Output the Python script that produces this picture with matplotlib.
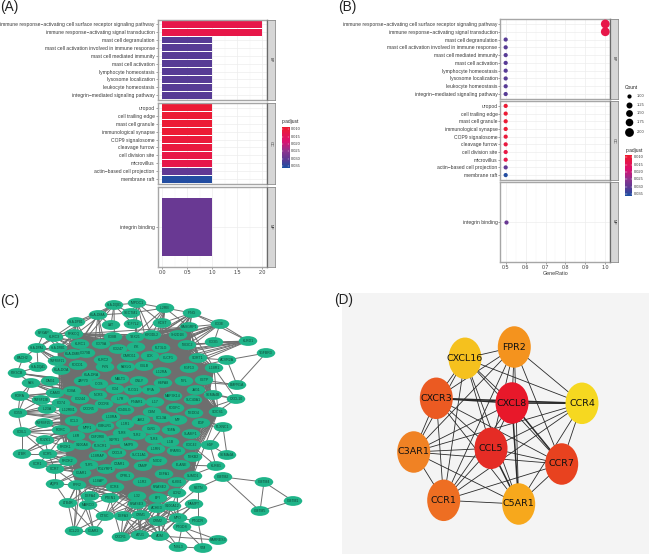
import matplotlib
matplotlib.use("Agg")
import matplotlib.pyplot as plt
import numpy as np
from itertools import combinations
from matplotlib.colors import LinearSegmentedColormap, Normalize
from matplotlib.patches import Ellipse, Rectangle
from matplotlib.collections import LineCollection

plt.rcParams['font.family'] = ['Liberation Sans', 'DejaVu Sans']

W, H = 650, 555

# ---------- enrichment data (A, B) ----------
bp_terms = ["immune response\u2212activating cell surface receptor signaling pathway",
            "immune response\u2212activating signal transduction", "mast cell degranulation",
            "mast cell activation involved in immune response", "mast cell mediated immunity",
            "mast cell activation", "lymphocyte homeostasis", "lysosome localization",
            "leukocyte homeostasis", "integrin\u2212mediated signaling pathway"]
bp_count = [2, 2, 1, 1, 1, 1, 1, 1, 1, 1]
bp_ratio = [1.0, 1.0, 0.5, 0.5, 0.5, 0.5, 0.5, 0.5, 0.5, 0.5]
bp_padj = [0.0125, 0.0125, 0.031, 0.031, 0.031, 0.031, 0.031, 0.031, 0.031, 0.031]

cc_terms = ["uropod", "cell trailing edge", "mast cell granule", "immunological synapse",
            "COP9 signalosome", "cleavage furrow", "cell division site", "microvillus",
            "actin\u2212based cell projection", "membrane raft"]
cc_count = [1, 1, 1, 1, 1, 1, 1, 1, 1, 1]
cc_ratio = [0.5, 0.5, 0.5, 0.5, 0.5, 0.5, 0.5, 0.5, 0.5, 0.5]
cc_padj = [0.0095, 0.0095, 0.0095, 0.0095, 0.0105, 0.011, 0.012, 0.0125, 0.030, 0.0355]

mf_terms = ["integrin binding"]
mf_count = [1]
mf_ratio = [0.5]
mf_padj = [0.029]

cbar_ticks = [0.010, 0.015, 0.020, 0.025, 0.030, 0.035]
size_levels = [1.00, 1.25, 1.50, 1.75, 2.00]
size_diam_px = [4.2, 6.0, 6.8, 7.6, 8.8]

cmap = LinearSegmentedColormap.from_list("padj", [(0, '#EE1C2E'), (0.35, '#DC1070'), (0.6, '#8B3590'),
                                                  (0.8, '#5B3A94'), (1, '#1B4FA3')])
norm = Normalize(0.0085, 0.0362)

TXT = '#3A3A3A'
BORDER = '#A6A6A6'
GRID = '#EDEDED'
FS = 3.65


def box(x0, y0, x1, y1, **kw):
    return plt.gcf().add_axes([x0 / W, 1 - y1 / H, (x1 - x0) / W, (y1 - y0) / H], **kw)


def strip(x0, y0, x1, y1, label):
    s = box(x0, y0, x1, y1)
    s.set_facecolor('#D6D6D6')
    s.set_xticks([]); s.set_yticks([])
    for k, sp in s.spines.items():
        sp.set_color('#8A8A8A'); sp.set_linewidth(0.6)
    s.spines['left'].set_color('#6A6A6A'); s.spines['left'].set_linewidth(0.9)
    s.text(.5, .5, label, rotation=-90, ha='center', va='center', fontsize=2.8,
           color='#333333', transform=s.transAxes)


def style_panel(ax, xlim, major, minor, terms, last):
    n = len(terms)
    ax.set_xlim(*xlim)
    ax.set_ylim(n + .6, .4)
    ax.set_yticks(range(1, n + 1), terms)
    ax.set_xticks(major)
    ax.set_xticks(minor, minor=True)
    ax.grid(True, which='major', color=GRID, lw=.5)
    ax.grid(True, which='minor', axis='x', color='#F3F3F3', lw=.35)
    ax.set_axisbelow(True)
    ax.tick_params(axis='y', labelsize=FS, length=1.2, width=.4, color='#555555', pad=.8, labelcolor=TXT)
    ax.tick_params(axis='x', which='major', labelsize=3.75, length=1.2 if last else 0, width=.4,
                   color='#555555', pad=1.2, labelcolor=TXT, labelbottom=last)
    ax.tick_params(axis='x', which='minor', length=0)
    for sp in ax.spines.values():
        sp.set_color(BORDER); sp.set_linewidth(1.0)


def colorbar(x0, y0, x1, y1, tick_x, title_y):
    c = box(x0, y0, x1, y1)
    g = np.linspace(norm.vmin, norm.vmax, 200).reshape(-1, 1)
    c.imshow(g, cmap=cmap, norm=norm, aspect='auto', extent=[0, 1, norm.vmax, norm.vmin])
    c.set_xticks([]); c.set_yticks([])
    for sp in c.spines.values():
        sp.set_visible(False)
    for t in cbar_ticks:
        c.plot([0, .2], [t, t], color='white', lw=.3)
        c.plot([.8, 1], [t, t], color='white', lw=.3)
        c.text(1 + (tick_x - x1) / (x1 - x0), t, f"{t:.3f}", fontsize=2.9, va='center', ha='left', color=TXT)
    c.set_xlim(0, 1); c.set_ylim(norm.vmax, norm.vmin)
    canvas.text(x0, title_y, "p.adjust", fontsize=3.5, va='center', ha='left', color='#222222')


fig = plt.figure(figsize=(W / 100, H / 100), dpi=100, facecolor='white')

canvas = fig.add_axes([0, 0, 1, 1], zorder=0)
canvas.set_xlim(0, W); canvas.set_ylim(H, 0); canvas.axis('off')

# ---------- A ----------
panelsA = [(19.5, 100, bp_terms, bp_count, bp_padj, 'BP'),
           (103, 184, cc_terms, cc_count, cc_padj, 'CC'),
           (187, 267, mf_terms, mf_count, mf_padj, 'MF')]
for y0, y1, terms, cnt, pad, lab in panelsA:
    ax = box(157.5, y0, 267, y1)
    style_panel(ax, (-0.096, 2.094), [0, .5, 1, 1.5, 2], [.25, .75, 1.25, 1.75], terms, lab == 'MF')
    ax.barh(range(1, len(terms) + 1), cnt, height=.87, color=cmap(norm(np.array(pad))))
    if lab == 'MF':
        ax.set_xticklabels(['0.0', '0.5', '1.0', '1.5', '2.0'])
    strip(267, y0, 274.5, y1, lab)
colorbar(281.7, 127, 289, 167.7, 291.3, 122)

# ---------- B ----------
panelsB = [(19.3, 98.7, bp_terms, bp_ratio, bp_count, bp_padj, 'BP'),
           (101.3, 179.7, cc_terms, cc_ratio, cc_count, cc_padj, 'CC'),
           (182, 261.7, mf_terms, mf_ratio, mf_count, mf_padj, 'MF')]
for y0, y1, terms, rat, cnt, pad, lab in panelsB:
    ax = box(500.3, y0, 610, y1)
    style_panel(ax, (0.473, 1.0236), [.5, .6, .7, .8, .9, 1.0], [.55, .65, .75, .85, .95], terms, lab == 'MF')
    d = np.interp(cnt, size_levels, size_diam_px) * .72
    ax.scatter(rat, range(1, len(terms) + 1), s=d ** 2, c=cmap(norm(np.array(pad))), lw=0, zorder=3, clip_on=False)
    if lab == 'MF':
        ax.set_xticklabels(['0.5', '0.6', '0.7', '0.8', '0.9', '1.0'])
        ax.set_xlabel("GeneRatio", fontsize=3.9, labelpad=1, color=TXT)
    strip(610, y0, 617.7, y1, lab)
colorbar(625.3, 155, 632, 195.7, 634.3, 150.7)

canvas.text(625, 87.7, "Count", fontsize=3.5, va='center', color='#222222')
legend_y_px = [96.3, 104.7, 113, 122, 132.3]
for lv, dp, yy in zip(size_levels, size_diam_px, legend_y_px):
    canvas.scatter([629.3], [yy], s=(dp * .72) ** 2, color='black', lw=0)
    canvas.text(637, yy, f"{lv:.2f}", fontsize=2.9, va='center', color=TXT)

# ---------- panel letters ----------
for t, x, y in [("(A)", 0.5, 7), ("(B)", 338, 7), ("(C)", 0.5, 301), ("(D)", 334, 300)]:
    canvas.text(x, y, t, fontsize=9.8, va='center', ha='left', color='#222222', zorder=20)

# ---------- C : network layout ----------
c_layout = [
 ("HLA-DQB1",114,305),("IMPDC1",137,303),("SECTM1",131,313),("HLA-DMA",98,315),("IL2RB",165,308),
 ("LAT",111,325),("TCF7L2",133,324),("HCST",162,323),("HLA-DPB1",76,322),("RFXAP",44,333),
 ("KLRC3",54,337),("PRKCQ",74,334),("CD8B",113,337),("TBX21",135,337),("KIR3DL2",152,335),
 ("KLRC1",80,344),("CD79A",101,344),("CD247",118,349),("ITK",136,347),("FLT3LG",161,348),
 ("HLA-DPA1",37,348),("HLA-DRB1",58,348),("CD79B",86,353),("HLA-DMB",73,354),("CARD11",130,356),
 ("LCK",150,356),("CLCF1",168,358),("BACH2",23,358),("TNFRSF21",57,361),("KLRC2",103,360),
 ("PDCD1",78,365),("FYN",105,367),("FASLG",126,367),("CBLB",144,366),("HLA-DQA1",38,367),
 ("HLA-DOA",61,370),("IL12RA",162,372),("PIK3CB",17,373),("HLA-DRA",91,375),("FAS",31,383),
 ("DAG1",50,381),("ZAP70",83,381),("ICOS",99,384),("MALT1",120,379),("GNLY",139,381),
 ("HSPA8",163,383),("CD4",115,389),("PLCG1",133,390),("PPIA",151,390),("ICAM3",55,393),
 ("CD8A",72,391),("RORA",20,396),("NCR3",98,395),("TNFSF13B",41,400),("CD74",61,403),
 ("CD244",80,399),("IL7R",120,399),("IFNAR1",137,402),("IL17",155,402),("IL23A",47,409),
 ("IL12RB1",68,410),("CXCR5",89,409),("CXCR6",104,404),("CD40LG",125,410),("OSM",152,412),
 ("CD59",18,413),("IL10RA",111,417),("CCL3",74,421),("JAK2",141,420),("IL1R1",125,424),
 ("CCL3A",162,418),("CMKLR1",105,426),("MPP1",87,428),("TLR8",122,433),("OLR1",151,429),
 ("TGFA",171,430),("RORC",61,430),("IL6R",76,436),("CSF2RB",98,437),("TLR2",137,435),
 ("S1PR1",114,440),("TLR4",154,439),("IL1B",170,442),("COIL1",22,432),("TNFRSF25",44,423),
 ("PDZK1",45,440),("PROK1",66,447),("S100A8",82,445),("PLSCR1",101,446),("MMP9",129,445),
 ("IL1RN",156,449),("PPARG",176,451),("LTBR",22,454),("CCR5",48,454),("IL18RAP",98,456),
 ("CXCL8",117,453),("SLC11A1",139,455),("NOD2",158,461),("CCR1",38,464),("PROK2",68,461),
 ("TLR5",89,465),("PGLYRP1",106,469),("C3AR1",120,464),("CAMP",143,466),("CCR7",55,469),
 ("C5AR1",82,473),("OPRL1",125,476),("DEFA1",164,474),("AQP9",55,484),("FPR2",77,485),
 ("IL18AP",98,481),("IL1R2",142,482),("CCR4",115,487),("RNASE2",160,487),("DEFA4",90,496),
 ("PTEN1",110,498),("IL32",137,496),("BPI",158,498),("LTB4R",68,503),("MARCO",88,505),
 ("RNASE3",137,504),("ACHE3",157,508),("S100A12",172,506),("CTSC",105,516),("DEFA3",123,516),
 ("ORM1",141,515),("ORM2",158,521),("MPO",178,518),("CCL23",74,531),("C5AR2",94,531),
 ("CXCR1",121,537),("AZU1",140,535),("ADM",160,536),
 ("NR3C2",187,345),("CD3G",214,342),("KLRD1",248,341),("CD3E",220,324),("IFNG",192,313),
 ("RASGRP1",189,327),("SH2D1B",178,335),("SORT1",198,358),("FGF13",189,368),("ACVR2A",227,360),
 ("IL18R1",214,368),("TGFBR3",266,353),("BMPR1A",237,385),("CXCL10",236,399),("SEMA4B",213,395),
 ("CETP",204,380),("NPL",184,381),("JAG1",196,390),("SLC40A1",193,400),("MAP3K14",173,396),
 ("PDGFC",175,408),("NEDD4",194,413),("SOCS1",218,412),("EGF",201,423),("MIF",178,420),
 ("PLXNC1",223,427),("SLAMF1",191,434),("CDC42",192,445),("HGF",210,445),("SEMA4A",227,455),
 ("KLRB1",216,466),("NFKB2",193,457),("ELANE",181,465),("SUMO1",193,476),("CMTM2",223,477),
 ("CMTM4",264,482),("CMTM1",293,501),("CMTM5",260,511),("RETN",198,488),("KLKB1",177,482),
 ("LCN2",177,493),("NAMPT",194,504),("PTGDR",198,521),("PTGDS",182,527),("RARRES3",218,540),
 ("VIM",203,548),("INSL3",178,547),
]
c_outer_links = {
 "CMTM2":["CMTM4","CMTM5","RETN"], "CMTM4":["CMTM5","CMTM1"], "CMTM1":["CMTM5"],
 "TGFBR3":["ACVR2A","BMPR1A"], "ACVR2A":["BMPR1A","SORT1","FGF13"], "BMPR1A":["CETP","NPL"],
 "CXCL10":["IL18R1","SEMA4B","NEDD4","EGF","JAG1"], "SEMA4B":["JAG1","CD4","IL7R"],
 "KLRD1":["CD3G","CD3E","CD4","ITK","LCK","FYN","KLRC2","CD8A","ZAP70","NR3C2","IFNG","CD247","PLCG1"],
 "CD3E":["CD3G","CD4","ITK","LCK","FYN","CD8A","ZAP70","IFNG","RASGRP1","CD247","PLCG1"],
 "SEMA4A":["PLXNC1","HGF"], "PLXNC1":["HGF","JAK2","CD4","IL17"],
 "KLRB1":["HGF","OSM","ELANE","IL32"], "PTGDR":["PTGDS","VIM","MPO","RETN"], "PTGDS":["INSL3","RARRES3","MPO"],
 "INSL3":["VIM","ADM","ORM2"], "RARRES3":["ADM"], "VIM":["PTGDS"],
 "BACH2":["HLA-DQA1","PIK3CB","HLA-DPA1"], "PIK3CB":["HLA-DQA1","FAS","ICOS","CD4","ZAP70"],
 "FAS":["CD4","CD8A","IL7R","DAG1","RORA","JAK2","CXCR5","IL1R1","CD59"],
 "RORA":["CD4","CCL3","CD8A","IL7R","CD59","IL23A","CXCR5"],
 "CD59":["CD4","CCL3","IL7R","JAK2","CXCR5","IL1R1","IL23A","COIL1","TNFSF13B"],
 "COIL1":["CCL3","TNFRSF25","PDZK1","CCR5","CMKLR1","MPP1","IL6R"],
 "TNFRSF25":["CCL3","MPP1","IL6R","JAK2","IL1R1","CXCR5"], "LTBR":["CCR5","PDZK1","CCL3","COIL1","MPP1"],
 "PDZK1":["CCL3","IL6R","MPP1","CCR5","CMKLR1","PROK1"], "CCR1":["CCR5","PROK2","TLR5","C5AR1","S1PR1","CCR7","CXCL8"],
 "CCR5":["CCL3","PROK1","PROK2","CXCL8","MMP9","S1PR1","CCR7","C5AR1","TLR5"],
 "CCR7":["C5AR1","PROK2","TLR5","CXCL8","C3AR1","CAMP","AQP9","FPR2"],
 "AQP9":["FPR2","C5AR1","LTB4R","CCR7","TLR5"],
 "FPR2":["C5AR1","LTB4R","CCR4","TLR5","C3AR1","MARCO","CAMP","OPRL1","PGLYRP1","IL18AP","CCL23"],
 "LTB4R":["CCL23","C5AR2","C5AR1","IL18AP","DEFA4"], "MARCO":["CCL23","C5AR2","C5AR1","PTEN1","CTSC"],
 "DEFA4":["IL18AP","CCR4","IL32","C3AR1","CAMP","RNASE2"],
 "PTEN1":["CCR4","IL32","CAMP","RNASE2","IL1R2","OPRL1","ORM1","CXCR1"],
 "CCL23":["C5AR1","CTSC","C5AR2"], "C5AR2":["CTSC","FPR2"],
 "CTSC":["IL32","RNASE3","DEFA3","CAMP","IL1R2","CCR4","ORM1"],
 "DEFA3":["IL32","RNASE3","ORM1","CXCR1","AZU1","ADM","RNASE2","BPI","ORM2","CAMP","DEFA1"],
 "ORM1":["IL32","RNASE3","AZU1","CXCR1","ADM","ORM2","BPI","ACHE3","DEFA1","CAMP","RNASE2"],
 "ORM2":["AZU1","ADM","CXCR1","BPI","ACHE3","S100A12","MPO","RNASE3","DEFA1"],
 "CXCR1":["AZU1","ADM","RNASE3","BPI","ACHE3","IL32","S100A12","MPO","NAMPT"],
 "AZU1":["ADM","RNASE3","BPI","ACHE3","S100A12","MPO","IL32","RETN"],
 "ADM":["BPI","ACHE3","S100A12","MPO","NAMPT","LCN2","RNASE3"],
 "MPO":["S100A12","BPI","LCN2","ACHE3","KLKB1","NAMPT"],
 "HLA-DQB1":["IMPDC1","SECTM1","HLA-DMA","LAT","TCF7L2","HLA-DPB1","HLA-DRB1","HLA-DMB","CD4","HLA-DPA1"],
 "IMPDC1":["SECTM1","IL2RB","HCST","TCF7L2","ITK","LCK","KIR3DL2","TBX21"],
 "IL2RB":["SECTM1","HCST","IFNG","KIR3DL2","CD247","LCK","FLT3LG","JAK2","RASGRP1","ITK"],
 "IFNG":["HCST","RASGRP1","SH2D1B","NR3C2","KIR3DL2","CD4","CD8A","LCK","FYN","JAK2","IL1R1","IFNAR1"],
 "RFXAP":["KLRC3","PRKCQ","HLA-DPA1","HLA-DRB1","HLA-DMB"], "KLRC3":["PRKCQ","KLRC1","CD247","KLRC2","FYN"],
 "HLA-DPA1":["HLA-DRB1","HLA-DQA1","TNFRSF21","CD4","HLA-DMB","HLA-DOA","HLA-DRA","HLA-DPB1"],
 "HLA-DPB1":["PRKCQ","HLA-DMA","KLRC1","CD4","HLA-DRA","HLA-DMB","HLA-DOA"],
 "HLA-DMA":["LAT","HLA-DMB","CD4","HLA-DRA","HLA-DOA","SECTM1","CD79A"],
 "DAG1":["ICAM3","CD8A","CD4"],
}
# Nodes drawn with read outer links only; the unreadable dense core below is approximated as fully linked.
c_outer = {"CMTM2","CMTM4","CMTM1","CMTM5","TGFBR3","ACVR2A","BMPR1A","CXCL10","SEMA4B","KLRD1","CD3E","CD3G",
           "SEMA4A","PLXNC1","KLRB1","PTGDR","PTGDS","INSL3","RARRES3","VIM","BACH2","PIK3CB","FAS","RORA","CD59",
           "COIL1","TNFRSF25","LTBR","PDZK1","CCR1","CCR5","AQP9","LTB4R","MARCO","CCL23","C5AR2","CTSC","DEFA3",
           "ORM1","ORM2","CXCR1","AZU1","ADM","MPO","HLA-DQB1","IMPDC1","IL2RB","IFNG","RFXAP","KLRC3","HLA-DPA1",
           "HLA-DPB1","HLA-DMA","DAG1","LAT","SECTM1","TCF7L2","HCST","HGF","S100A12","NAMPT","RETN","PTEN1",
           "DEFA4","HLA-DQA1","TNFRSF21","IL23A","TNFSF13B","ICAM3","PROK1","CCR7"}

cpos = {n: (x, y) for n, x, y in c_layout}
segs = []
for a, targets in c_outer_links.items():
    for b in targets:
        segs.append((cpos[a], cpos[b]))
core = [n for n, _, _ in c_layout if n not in c_outer]
for a, b in combinations(core, 2):
    segs.append((cpos[a], cpos[b]))
canvas.add_collection(LineCollection(segs, colors='#6E6E6E', linewidths=.7, zorder=2))
for n, x, y in c_layout:
    canvas.add_patch(Ellipse((x, y), 18.5, 9.8, facecolor='#1FB489', edgecolor='none', zorder=3))
    canvas.text(x, y, n, fontsize=2.5 if len(n) < 8 else 2.2, ha='center', va='center', color='#124A3A', zorder=4)

# ---------- D ----------
canvas.add_patch(Rectangle((342, 293), 307, 261, facecolor='#F4F4F4', edgecolor='none', zorder=1))
d_names = ["FPR2", "CXCL16", "CXCR3", "CXCL8", "CCR4", "C3AR1", "CCL5", "CCR7", "CCR1", "C5AR1"]
d_x_px = [514.3, 465, 436.3, 512, 582, 413.7, 491, 561.7, 443.7, 518.7]
d_y_px = [347, 358.3, 398.3, 403, 403.3, 452, 448.3, 464, 500.3, 504]
d_colors = ['#F4931E', '#F5C11E', '#EB5A22', '#E8182A', '#F6D820', '#F08224', '#E52C25', '#E8421F', '#EE6E22', '#F7A81C']
d_edges = [("FPR2","CXCL16"),("FPR2","CXCR3"),("FPR2","CXCL8"),("FPR2","CCR4"),("FPR2","C3AR1"),("FPR2","CCL5"),
           ("FPR2","CCR7"),("FPR2","CCR1"),("FPR2","C5AR1"),("CXCL16","CXCR3"),("CXCL16","CXCL8"),("CXCL16","CCR4"),
           ("CXCL16","C3AR1"),("CXCL16","CCL5"),("CXCL16","CCR7"),("CXCL16","CCR1"),("CXCL16","C5AR1"),
           ("CXCR3","CXCL8"),("CXCR3","CCR4"),("CXCR3","C3AR1"),("CXCR3","CCL5"),("CXCR3","CCR7"),("CXCR3","CCR1"),
           ("CXCR3","C5AR1"),("CXCL8","CCR4"),("CXCL8","C3AR1"),("CXCL8","CCL5"),("CXCL8","CCR7"),("CXCL8","CCR1"),
           ("CXCL8","C5AR1"),("CCR4","C3AR1"),("CCR4","CCL5"),("CCR4","CCR7"),("CCR4","CCR1"),("CCR4","C5AR1"),
           ("C3AR1","CCL5"),("C3AR1","CCR7"),("C3AR1","CCR1"),("C3AR1","C5AR1"),("CCL5","CCR7"),("CCL5","CCR1"),
           ("CCL5","C5AR1"),("CCR7","CCR1"),("CCR7","C5AR1"),("CCR1","C5AR1")]
d_heavy = [("CXCR3","CXCL8"),("CXCR3","CCR4"),("CXCL8","CCR4"),("CXCL8","C5AR1"),("CCL5","C5AR1"),("CXCL8","CCR7")]
dpos = dict(zip(d_names, zip(d_x_px, d_y_px)))
for a, b in d_edges:
    lw = 1.1 if (a, b) in d_heavy else .6
    canvas.plot([dpos[a][0], dpos[b][0]], [dpos[a][1], dpos[b][1]], color='#2A2A2A', lw=lw, zorder=2,
                solid_capstyle='butt')
for n, c in zip(d_names, d_colors):
    canvas.add_patch(Ellipse(dpos[n], 33, 41.5, facecolor=c, edgecolor='none', zorder=3))
    canvas.text(dpos[n][0], dpos[n][1], n, fontsize=6.8, family='DejaVu Sans', ha='center', va='center',
                color='#111111', zorder=4)

fig.savefig("out.png", dpi=100)
